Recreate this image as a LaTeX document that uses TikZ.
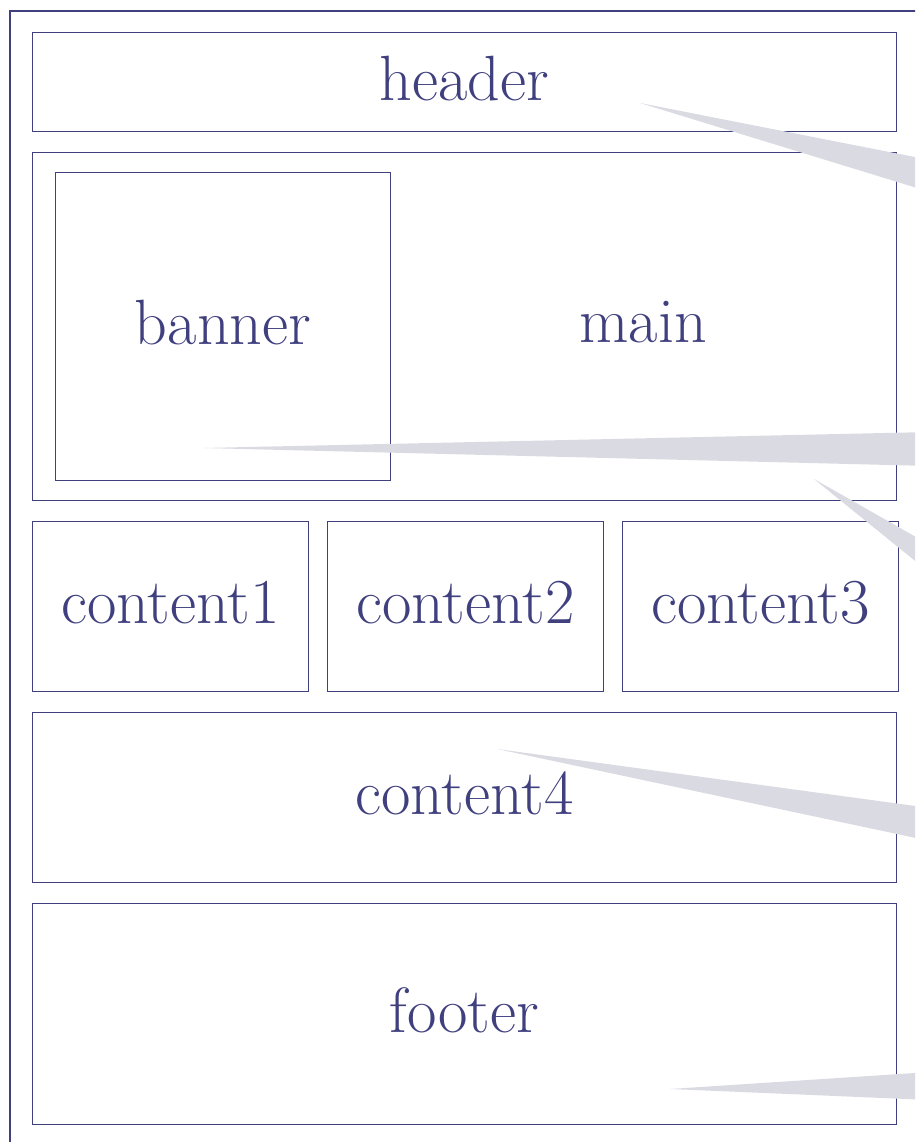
\documentclass[tikz,border=0pt]{standalone}
\usepackage{fontspec}
\definecolor{ink}{HTML}{40407F}
\definecolor{wedgec}{HTML}{DADAE2}
\begin{document}
\begin{tikzpicture}[x=1pt,y=-1pt,
  box/.style={draw=ink,line width=1.1pt,inner sep=0pt,anchor=north west},
  lbl/.style={text=ink,font=\fontsize{64}{66}\selectfont,inner sep=0pt},
  wedge/.style={fill=wedgec,draw=none}]
\useasboundingbox (0,0) rectangle (915,1142);
\begin{scope}
\clip (0,0) rectangle (915,1142);
\draw[ink,line width=1.1pt] (10,11) rectangle (960,1180);
% boxes
\node[box,minimum width=864pt,minimum height=99pt] (header) at (32,32) {};
\node[box,minimum width=864pt,minimum height=348pt] (mainbox) at (32,152) {};
\node[box,minimum width=335pt,minimum height=308pt] (banner) at (55,172) {};
\node[box,minimum width=276pt,minimum height=170pt] (c1) at (32,521) {};
\node[box,minimum width=276pt,minimum height=170pt] (c2) at (327,521) {};
\node[box,minimum width=276pt,minimum height=170pt] (c3) at (622,521) {};
\node[box,minimum width=864pt,minimum height=170pt] (c4) at (32,712) {};
\node[box,minimum width=864pt,minimum height=221pt] (footer) at (32,903) {};
% labels
\node[lbl] (theader) at ([yshift=4pt]header.center) {header};
\node[lbl] (tbanner) at ([yshift=4pt]banner.center) {banner};
\node[lbl] (tmain) at (643,322) {main};
\node[lbl] (tc1) at ([yshift=4pt]c1.center) {content1};
\node[lbl] (tc2) at ([yshift=4pt]c2.center) {content2};
\node[lbl] (tc3) at ([yshift=4pt]c3.center) {content3};
\node[lbl] (tc4) at ([yshift=4pt]c4.center) {content4};
\node[lbl] (tfooter) at ([yshift=4pt]footer.center) {footer};
% wedges
\fill[wedge] (640,103) -- (930,160) -- (930,192) -- cycle;
\fill[wedge] (203,448) -- (930,432) -- (930,466) -- cycle;
\fill[wedge] (814,479) -- (930,545) -- (930,573) -- cycle;
\fill[wedge] (497,749) -- (930,808) -- (930,841) -- cycle;
\fill[wedge] (670,1089) -- (930,1072) -- (930,1100) -- cycle;
\end{scope}
\end{tikzpicture}
\end{document}
